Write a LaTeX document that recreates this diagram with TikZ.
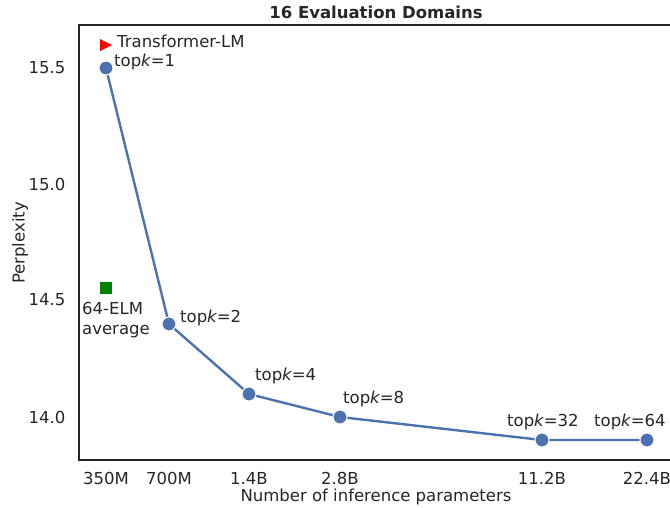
\documentclass[tikz,border=0pt]{standalone}
\usepackage{fontspec}
\setmainfont{DejaVu Sans}
\usetikzlibrary{backgrounds}
\definecolor{lineblue}{RGB}{76,114,176}
\definecolor{axisgray}{RGB}{38,38,38}
\definecolor{markred}{RGB}{255,0,0}
\definecolor{markgreen}{RGB}{0,128,0}
\newcommand{\topk}[1]{top{\itshape k}=#1}

\begin{document}
\begin{tikzpicture}[x=1pt, y=-1pt,
    every node/.style={text=axisgray, font=\fontsize{16.5}{19}\selectfont},
    dot/.style={circle, fill=lineblue, draw=white, line width=1pt, inner sep=0pt, minimum size=14pt},
    toplabel/.style={anchor=west, inner sep=0pt}]
    \useasboundingbox (0,0) rectangle (670,507);

    % Frame
    \draw[axisgray, line width=1.1pt] (670,25) -- (79,25) -- (79,460) -- (670,460);

    % Title
    \node[font=\fontsize{16.5}{19}\bfseries] (title) at (376,12) {16 Evaluation Domains};

    % Y ticks
    \node[anchor=east] (y155) at (69,68) {15.5};
    \node[anchor=east] (y150) at (69,184) {15.0};
    \node[anchor=east] (y145) at (69,300) {14.5};
    \node[anchor=east] (y140) at (69,417) {14.0};
    \node[rotate=90] (ylabel) at (20,243) {Perplexity};

    % X ticks
    \node (x350m) at (106,478) {350M};
    \node (x700m) at (169,478) {700M};
    \node (x14b) at (249,478) {1.4B};
    \node (x28b) at (340,478) {2.8B};
    \node (x112b) at (542,478) {11.2B};
    \node (x224b) at (647,478) {22.4B};
    \node (xlabel) at (376,497) {Number of inference parameters};

    % Curve
    \node[dot] (k1) at (106,68) {};
    \node[dot] (k2) at (169,324) {};
    \node[dot] (k4) at (249,394) {};
    \node[dot] (k8) at (340,417) {};
    \node[dot] (k32) at (542,440) {};
    \node[dot] (k64) at (647,440) {};
    \begin{pgfonlayer}{background}
        \draw[lineblue, line width=2.4pt] (k1.center) -- (k2.center) -- (k4.center) -- (k8.center) -- (k32.center) -- (k64.center);
    \end{pgfonlayer}

    % Labels
    \node[toplabel] (l1) at (114,62) {\topk{1}};
    \node[toplabel] (l2) at (180,318) {\topk{2}};
    \node[toplabel] (l4) at (255,376) {\topk{4}};
    \node[toplabel] (l8) at (343,399) {\topk{8}};
    \node[toplabel] (l32) at (507,422) {\topk{32}};
    \node[toplabel] (l64) at (594,422) {\topk{64}};

    % Baselines
    \fill[markred] (100,39) -- (112,45) -- (100,51) -- cycle;
    \node[toplabel] (tlm) at (117,41) {Transformer-LM};
    \fill[markgreen] (100,282) rectangle (112,294);
    \node[toplabel, align=left] (elm) at (82,320) {64-ELM\\[1pt]average};
\end{tikzpicture}
\end{document}
